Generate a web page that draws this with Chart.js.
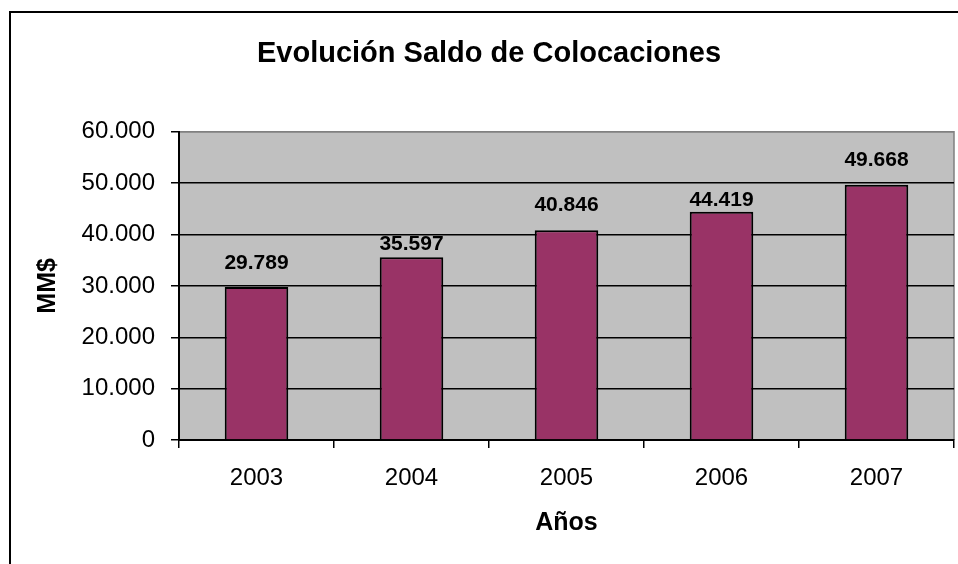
<!DOCTYPE html>
<html>
<head>
<meta charset="utf-8">
<script src="https://cdn.jsdelivr.net/npm/chart.js@4.4.0/dist/chart.umd.min.js"></script>
<style>
    html, body { margin: 0; padding: 0; background: #fff; }
    #wrap { width: 958px; height: 564px; position: relative; }
</style>
</head>
<body>
<div id="wrap"><canvas id="chart" width="958" height="564"></canvas></div>
<script>
const years = ['2003', '2004', '2005', '2006', '2007'];
const saldo = [29789, 35597, 40846, 44419, 49668];
const yMin = 0;
const yMax = 60000;
const yStep = 10000;

const FONT = '"Liberation Sans", Arial, sans-serif';

// 60000 -> "60.000"
function fmt(v) {
    return String(Math.round(v)).replace(/\B(?=(\d{3})+(?!\d))/g, '.');
}

const plotBg = {
    id: 'plotBg',
    beforeDraw(chart) {
        const a = chart.chartArea;
        const ctx = chart.ctx;
        ctx.save();
        ctx.fillStyle = '#C0C0C0';
        ctx.fillRect(a.left, a.top, a.right - a.left, a.bottom - a.top);
        ctx.strokeStyle = '#808080';
        ctx.lineWidth = 1.5;
        ctx.beginPath();
        ctx.moveTo(a.left, a.top);
        ctx.lineTo(a.right, a.top);
        ctx.lineTo(a.right, a.bottom);
        ctx.stroke();
        ctx.restore();
    },
    afterDraw(chart) {
        // outer frame of the chart object (only left and top edges fall in the picture)
        const ctx = chart.ctx;
        ctx.save();
        ctx.strokeStyle = '#000';
        ctx.lineWidth = 2;
        ctx.beginPath();
        ctx.moveTo(10, chart.height);
        ctx.lineTo(10, 12);
        ctx.lineTo(chart.width, 12);
        ctx.stroke();
        ctx.restore();
    }
};

const barLabels = {
    id: 'barLabels',
    afterDatasetsDraw(chart, args, opts) {
        const ctx = chart.ctx;
        const meta = chart.getDatasetMeta(0);
        ctx.save();
        ctx.font = 'bold 21px ' + FONT;
        ctx.fillStyle = '#000';
        ctx.textAlign = 'center';
        ctx.textBaseline = 'middle';
        meta.data.forEach((bar, i) => {
            const lift = opts.lift[i] || 24;
            ctx.fillText(fmt(saldo[i]), bar.x, bar.y - lift);
        });
        ctx.restore();
    }
};

new Chart(document.getElementById('chart'), {
    type: 'bar',
    data: {
        labels: years,
        datasets: [{
            data: saldo,
            backgroundColor: '#993366',
            borderColor: '#000',
            borderWidth: 2,
            borderSkipped: 'start',
            categoryPercentage: 1,
            barPercentage: 0.41
        }]
    },
    options: {
        responsive: false,
        animation: false,
        devicePixelRatio: 1,
        layout: { padding: { left: 24, right: 4, top: 0, bottom: 0 } },
        plugins: {
            legend: { display: false },
            tooltip: { enabled: false },
            title: {
                display: true,
                text: 'Evolución Saldo de Colocaciones',
                color: '#000',
                font: { family: FONT, size: 29, weight: 'bold' },
                padding: { top: 37, bottom: 60 }
            },
            barLabels: { lift: [24, 13, 25, 12, 25] }
        },
        scales: {
            x: {
                offset: true,
                grid: {
                    display: true,
                    offset: true,
                    drawOnChartArea: false,
                    drawTicks: true,
                    tickLength: 8,
                    color: '#000',
                    lineWidth: 1.5
                },
                border: { display: true, color: '#000', width: 2 },
                ticks: {
                    color: '#000',
                    padding: 16,
                    font: { family: FONT, size: 24 }
                },
                title: {
                    display: true,
                    text: 'Años',
                    color: '#000',
                    font: { family: FONT, size: 25, weight: 'bold' },
                    padding: { top: 0, bottom: 26 }
                },
                afterFit(scale) { scale.height = 124; }
            },
            y: {
                min: yMin,
                max: yMax,
                grid: {
                    color: (c) => (c.tick && c.tick.value === yMax ? '#808080' : '#000'),
                    tickColor: '#000',
                    lineWidth: 1.5,
                    tickLength: 8
                },
                border: { display: true, color: '#000', width: 2 },
                ticks: {
                    stepSize: yStep,
                    color: '#000',
                    padding: 16,
                    font: { family: FONT, size: 24 },
                    callback: (v) => fmt(v)
                },
                title: {
                    display: true,
                    text: 'MM$',
                    color: '#000',
                    font: { family: FONT, size: 25, weight: 'bold' },
                    padding: { top: 9, bottom: 0 }
                },
                afterFit(scale) { scale.width = 155; }
            }
        }
    },
    plugins: [plotBg, barLabels]
});
</script>
</body>
</html>
